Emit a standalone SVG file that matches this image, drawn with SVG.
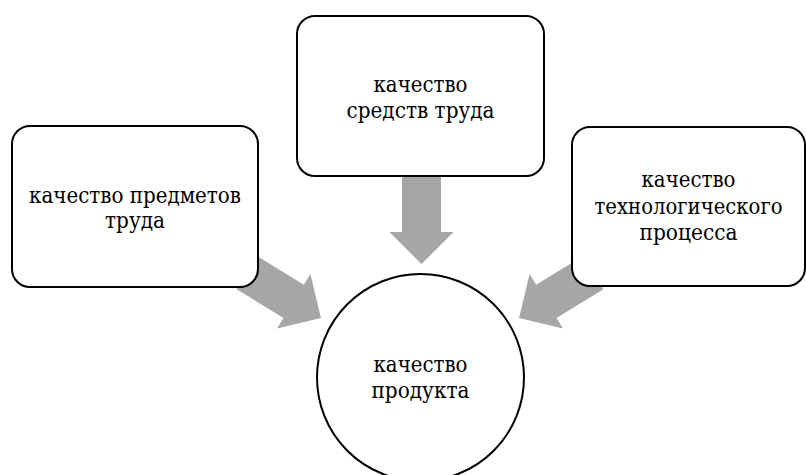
<svg xmlns="http://www.w3.org/2000/svg" width="806" height="475" viewBox="0 0 806 475">
<defs>
<style>
.box{fill:#fff;stroke:#000;stroke-width:2}
.arr{fill:#a6a6a6;stroke:none}
.t{font-family:'DejaVu Serif','Liberation Serif',serif;font-size:22px;fill:#000;text-anchor:middle}
</style>
<polygon id="arrow" points="0,-19.5 55,-19.5 55,-32 87,0 55,32 55,19.5 0,19.5"/>
</defs>
<rect width="806" height="475" fill="#fff"/>
<g id="connectors">
<use href="#arrow" class="arr" transform="translate(421.5,177) rotate(90)"/>
<use href="#arrow" class="arr" transform="translate(246.8,272.6) rotate(31.5)"/>
<use href="#arrow" class="arr" transform="translate(593.2,272.6) rotate(148.5)"/>
</g>
<g id="node-left">
<rect class="box" x="12" y="126" width="246" height="161" rx="18"/>
<text class="t" x="135" y="202.5" textLength="212" lengthAdjust="spacingAndGlyphs">качество предметов</text>
<text class="t" x="135" y="228" textLength="60" lengthAdjust="spacingAndGlyphs">труда</text>
</g>
<g id="node-top">
<rect class="box" x="297" y="16" width="247" height="160" rx="18"/>
<text class="t" x="420.5" y="92" textLength="94" lengthAdjust="spacingAndGlyphs">качество</text>
<text class="t" x="420.5" y="118" textLength="148" lengthAdjust="spacingAndGlyphs">средств труда</text>
</g>
<g id="node-right">
<rect class="box" x="572" y="127" width="233" height="159" rx="18"/>
<text class="t" x="688.5" y="187" textLength="94" lengthAdjust="spacingAndGlyphs">качество</text>
<text class="t" x="688.5" y="213.5" textLength="188" lengthAdjust="spacingAndGlyphs">технологического</text>
<text class="t" x="688.5" y="240" textLength="98" lengthAdjust="spacingAndGlyphs">процесса</text>
</g>
<g id="node-center">
<circle class="box" cx="420.5" cy="377.5" r="103.5"/>
<text class="t" x="420.5" y="372" textLength="94" lengthAdjust="spacingAndGlyphs">качество</text>
<text class="t" x="420.5" y="398" textLength="98" lengthAdjust="spacingAndGlyphs">продукта</text>
</g>
</svg>
